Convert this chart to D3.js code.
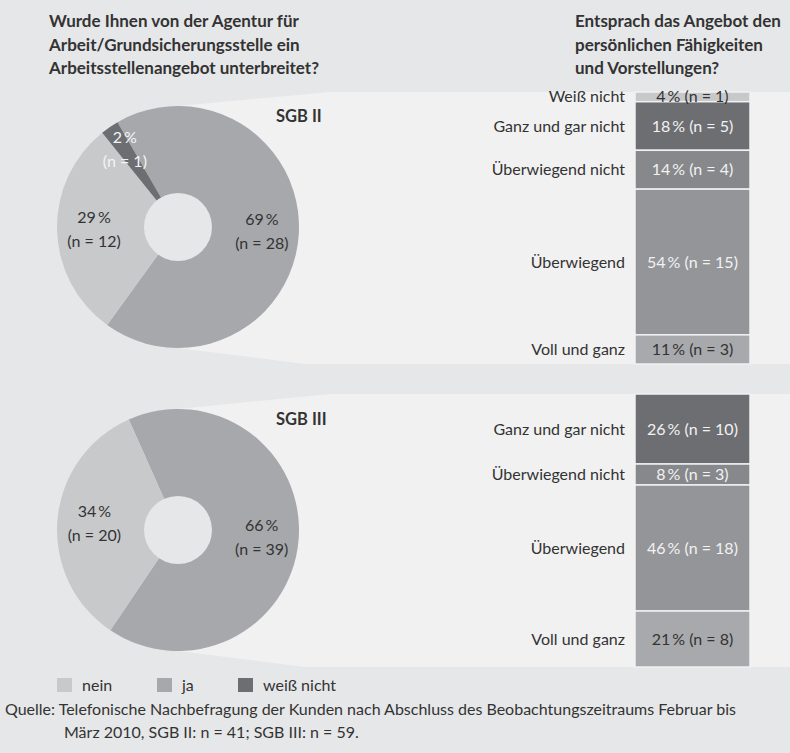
<!DOCTYPE html>
<html>
<head>
<meta charset="utf-8">
<script src="https://cdn.jsdelivr.net/npm/d3@7"></script>
<style>
  body { margin: 0; background: #e6e7e8; }
  svg { display: block; font-family: Lato, "Open Sans", sans-serif; }
</style>
</head>
<body>
<svg id="chart" width="790" height="753"></svg>
<script>
// answers of the pie (question 1)
const answers = ["nein", "ja", "weiß nicht"];
const answerColors = ["#c8c9cb", "#a7a8ab", "#6d6e71"];
const sgb2PieN = [12, 28, 1];
const sgb2PiePct = [29, 69, 2];
const sgb3PieN = [20, 39, 0];
const sgb3PiePct = [34, 66, 0];

// answers of the stacked bar (question 2)
const fitCategories = ["Weiß nicht", "Ganz und gar nicht", "Überwiegend nicht", "Überwiegend", "Voll und ganz"];
const fitColors = ["#c7c8ca", "#6d6e71", "#87888b", "#949598", "#a8a9ac"];
const fitTextColors = ["#333", "#f2f2f2", "#f2f2f2", "#f2f2f2", "#333"];
const sgb2BarN = [1, 5, 4, 15, 3];
const sgb2BarPct = [4, 18, 14, 54, 11];
const sgb3BarN = [0, 10, 3, 18, 8];
const sgb3BarPct = [0, 26, 8, 46, 21];

const svg = d3.select("#chart");
const bg = "#e6e7e8", light = "#f1f1f2";
const pctLabel = p => `${p}\u2009%`;
const nLabel = n => `(n = ${n})`;

// titles
const titleLeft = ["Wurde Ihnen von der Agentur für", "Arbeit/Grundsicherungsstelle ein", "Arbeitsstellenangebot unterbreitet?"];
const titleRight = ["Entsprach das Angebot den", "persönlichen Fähigkeiten", "und Vorstellungen?"];

function title(lines, x) {
  svg.append("text")
    .attr("x", x).attr("y", 27)
    .style("font-size", "17px").style("font-weight", "bold").attr("fill", "#333")
    .selectAll("tspan").data(lines).enter().append("tspan")
    .attr("x", x).attr("dy", (d, i) => i ? 23.5 : 0)
    .text(d => d);
}
title(titleLeft, 49);
title(titleRight, 575);

const panels = [
  { name: "SGB II", pieN: sgb2PieN, piePct: sgb2PiePct, barN: sgb2BarN, barPct: sgb2BarPct,
    cx: 178, cy: 227, start: -30, barTop: 92, barBottom: 364, nameY: 122 },
  { name: "SGB III", pieN: sgb3PieN, piePct: sgb3PiePct, barN: sgb3BarN, barPct: sgb3BarPct,
    cx: 178, cy: 530, start: -24, barTop: 394, barBottom: 667, nameY: 425 }
];

const R = 121, r0 = 34;
const barX = 635, barW = 115, labelX = 625;

panels.forEach(p => {
  // light wedge behind pie + bar
  svg.append("path")
    .attr("d", d3.line()([
      [p.cx, p.cy - R], [330, p.barTop], [790, p.barTop],
      [790, p.barBottom], [305, p.barBottom], [p.cx, p.cy + R]
    ]))
    .attr("fill", light);

  // pie, clockwise: ja, nein, weiß nicht
  const order = [1, 0, 2];
  const slices = order.map(i => ({ i, n: p.pieN[i], pct: p.piePct[i] }));
  const startRad = p.start * Math.PI / 180;
  const pie = d3.pie().sort(null).value(d => d.n)
    .startAngle(startRad).endAngle(startRad + 2 * Math.PI);
  const arcs = pie(slices).filter(d => d.data.n > 0);
  const arc = d3.arc().innerRadius(0).outerRadius(R);
  const labelArc = d3.arc().innerRadius(84).outerRadius(84);

  const g = svg.append("g").attr("transform", `translate(${p.cx},${p.cy})`);
  g.selectAll("path").data(arcs).enter().append("path")
    .attr("d", arc)
    .attr("fill", d => answerColors[d.data.i]);
  g.append("circle").attr("r", r0).attr("fill", bg);

  const lbl = g.selectAll(".pl").data(arcs).enter().append("text")
    .attr("class", "pl")
    .attr("transform", d => {
      const c = labelArc.centroid(d);
      const k = d.data.i === 2 ? 1.12 : 1;
      return `translate(${c[0] * k},${c[1] * k})`;
    })
    .attr("text-anchor", "middle")
    .style("font-size", "16px")
    .attr("fill", d => d.data.i === 2 ? "#f4f4f4" : "#333");
  lbl.append("tspan").attr("x", 0).attr("y", -6).text(d => pctLabel(d.data.pct));
  lbl.append("tspan").attr("x", 0).attr("y", 18).text(d => nLabel(d.data.n));

  svg.append("text")
    .attr("x", 276).attr("y", p.nameY)
    .style("font-size", "16.5px").style("font-weight", "bold").attr("fill", "#333")
    .text(p.name);

  // stacked bar
  const total = d3.sum(p.barN);
  const y = d3.scaleLinear().domain([0, total]).range([p.barTop, p.barBottom]);
  let acc = 0;
  const segs = p.barN.map((n, i) => {
    const s = { i, n, pct: p.barPct[i], y0: acc, y1: acc + n };
    acc += n;
    return s;
  }).filter(s => s.n > 0);

  svg.selectAll(null).data(segs).enter().append("rect")
    .attr("x", barX).attr("width", barW)
    .attr("y", d => y(d.y0))
    .attr("height", d => y(d.y1) - y(d.y0))
    .attr("fill", d => fitColors[d.i])
    .attr("stroke", light).attr("stroke-width", 1.5);

  svg.selectAll(null).data(segs).enter().append("text")
    .attr("x", barX + barW / 2)
    .attr("y", d => y((d.y0 + d.y1) / 2))
    .attr("dy", "0.35em")
    .attr("text-anchor", "middle")
    .style("font-size", "16px")
    .attr("fill", d => fitTextColors[d.i])
    .text(d => `${pctLabel(d.pct)} ${nLabel(d.n)}`);

  svg.selectAll(null).data(segs).enter().append("text")
    .attr("x", labelX)
    .attr("y", d => y((d.y0 + d.y1) / 2))
    .attr("dy", "0.35em")
    .attr("text-anchor", "end")
    .style("font-size", "16px")
    .attr("fill", "#333")
    .text(d => fitCategories[d.i]);
});

// legend
const legendX = [57, 157, 238];
const legend = svg.selectAll(".legend").data(answers).enter().append("g")
  .attr("class", "legend")
  .attr("transform", (d, i) => `translate(${legendX[i]},678)`);
legend.append("rect").attr("width", 15).attr("height", 14).attr("fill", (d, i) => answerColors[i]);
legend.append("text").attr("x", 25).attr("y", 13)
  .style("font-size", "16px").attr("fill", "#333").text(d => d);

// source
const source = svg.append("text").style("font-size", "16px").attr("fill", "#333");
source.append("tspan").attr("x", 5).attr("y", 715)
  .text("Quelle: Telefonische Nachbefragung der Kunden nach Abschluss des Beobachtungszeitraums Februar bis");
source.append("tspan").attr("x", 64).attr("y", 738)
  .text("März 2010, SGB II: n = 41; SGB III: n = 59.");
</script>
</body>
</html>
